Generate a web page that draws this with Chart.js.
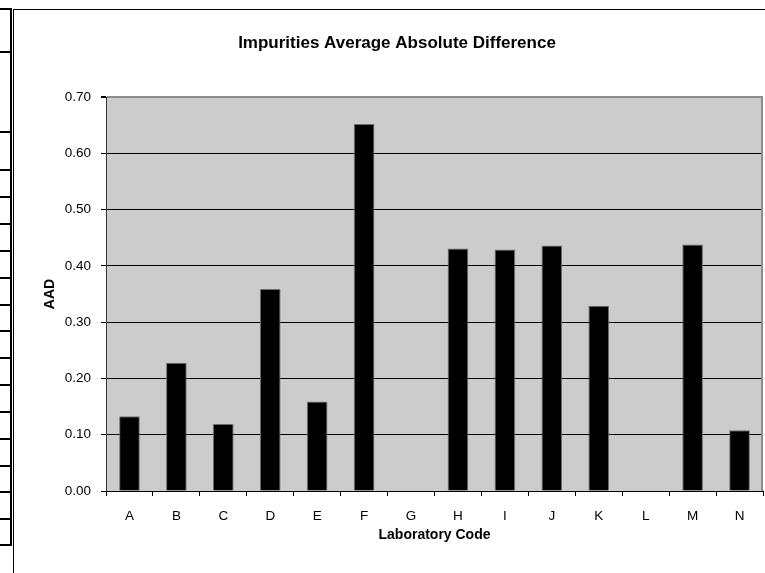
<!DOCTYPE html>
<html>
<head>
<meta charset="utf-8">
<script src="https://cdn.jsdelivr.net/npm/chart.js@4/dist/chart.umd.min.js"></script>
<style>
  html, body { margin: 0; padding: 0; background: #fff; }
  body { width: 765px; height: 573px; position: relative; overflow: hidden; }
  #frame {
    position: absolute; left: 13px; top: 9px; width: 760px; height: 563px;
    border-left: 1px solid #000; border-top: 1px solid #000; border-bottom: 1px solid #d8d8d8;
  }
  #wrap { position: absolute; left: 14px; top: 10px; width: 751px; height: 562px; }
  .cell-v { position: absolute; left: 10px; top: 8px; width: 2px; height: 538px; background: #000; }
  .cell-h { position: absolute; left: 0; width: 11px; height: 2px; background: #000; }
</style>
</head>
<body>
<div class="cell-v"></div>
<div id="frame"></div>
<div id="wrap"><canvas id="aad-chart" width="751" height="562"></canvas></div>
<script>
  // worksheet row lines peeking in at the left edge
  const rowLines = [8, 51, 131, 169, 196, 223, 250, 277, 304, 330, 357, 384, 411, 438, 465, 491, 518, 544];
  rowLines.forEach((y) => {
    const d = document.createElement('div');
    d.className = 'cell-h';
    d.style.top = y + 'px';
    document.body.appendChild(d);
  });

  const labCodes = ['A', 'B', 'C', 'D', 'E', 'F', 'G', 'H', 'I', 'J', 'K', 'L', 'M', 'N'];
  const aadValues = [0.133, 0.228, 0.119, 0.359, 0.159, 0.652, null, 0.431, 0.429, 0.436, 0.329, null, 0.438, 0.108];
  const yTicks = [0, 0.1, 0.2, 0.3, 0.4, 0.5, 0.6, 0.7];

  const fontFamily = "'Liberation Sans', Arial, sans-serif";

  const plotBackground = {
    id: 'plotBackground',
    beforeDraw(chart) {
      const { ctx, chartArea: a } = chart;
      ctx.save();
      ctx.fillStyle = '#cccccc';
      ctx.fillRect(a.left, a.top, a.right - a.left, a.bottom - a.top);
      ctx.restore();
    },
    afterDatasetsDraw(chart) {
      const { ctx, chartArea: a } = chart;
      ctx.save();
      ctx.strokeStyle = '#8c8c8c';
      ctx.lineWidth = 2;
      ctx.beginPath();
      ctx.moveTo(a.right - 1, a.top);
      ctx.lineTo(a.right - 1, a.bottom);
      ctx.stroke();
      ctx.restore();
    },
  };

  new Chart(document.getElementById('aad-chart'), {
    type: 'bar',
    data: {
      labels: labCodes,
      datasets: [
        {
          label: 'AAD',
          data: aadValues,
          backgroundColor: '#000000',
          borderColor: '#6e6e6e',
          borderWidth: 1,
          barPercentage: 0.44,
          categoryPercentage: 1,
        },
      ],
    },
    options: {
      responsive: false,
      animation: false,
      layout: { padding: { left: 17, right: 2, top: 0, bottom: 0 } },
      plugins: {
        legend: { display: false },
        tooltip: { enabled: false },
        title: {
          display: true,
          text: 'Impurities Average Absolute Difference',
          color: '#000',
          font: { family: fontFamily, size: 17, weight: 'bold' },
          padding: { top: 22.8, bottom: 43.8 },
        },
      },
      scales: {
        x: {
          afterFit(scale) { scale.height = 81; },
          grid: {
            drawOnChartArea: false,
            tickLength: 5,
            color: '#000',
          },
          border: { color: '#000', width: 1 },
          ticks: {
            color: '#000',
            padding: 12,
            font: { family: fontFamily, size: 13.5 },
          },
          title: {
            display: true,
            text: 'Laboratory Code',
            color: '#000',
            font: { family: fontFamily, size: 14, weight: 'bold' },
            padding: { top: 0, bottom: 28.6 },
          },
        },
        y: {
          min: 0,
          max: 0.7,
          afterFit(scale) { scale.width = 75; },
          afterBuildTicks(scale) {
            scale.ticks = yTicks.map((v) => ({ value: v }));
          },
          grid: {
            color: (c) => (c.tick && c.tick.value >= 0.7 ? '#8c8c8c' : '#000'),
            lineWidth: (c) => (c.tick && c.tick.value >= 0.7 ? 2 : 1),
            tickColor: '#000',
            tickLength: 5,
          },
          border: { color: '#333', width: 1 },
          ticks: {
            color: '#000',
            padding: 10,
            font: { family: fontFamily, size: 13.5 },
            callback: (v) => Number(v).toFixed(2),
          },
          title: {
            display: true,
            text: 'AAD',
            color: '#000',
            font: { family: fontFamily, size: 14, weight: 'bold' },
            padding: { top: 10.6, bottom: 0 },
          },
        },
      },
    },
    plugins: [plotBackground],
  });
</script>
</body>
</html>
